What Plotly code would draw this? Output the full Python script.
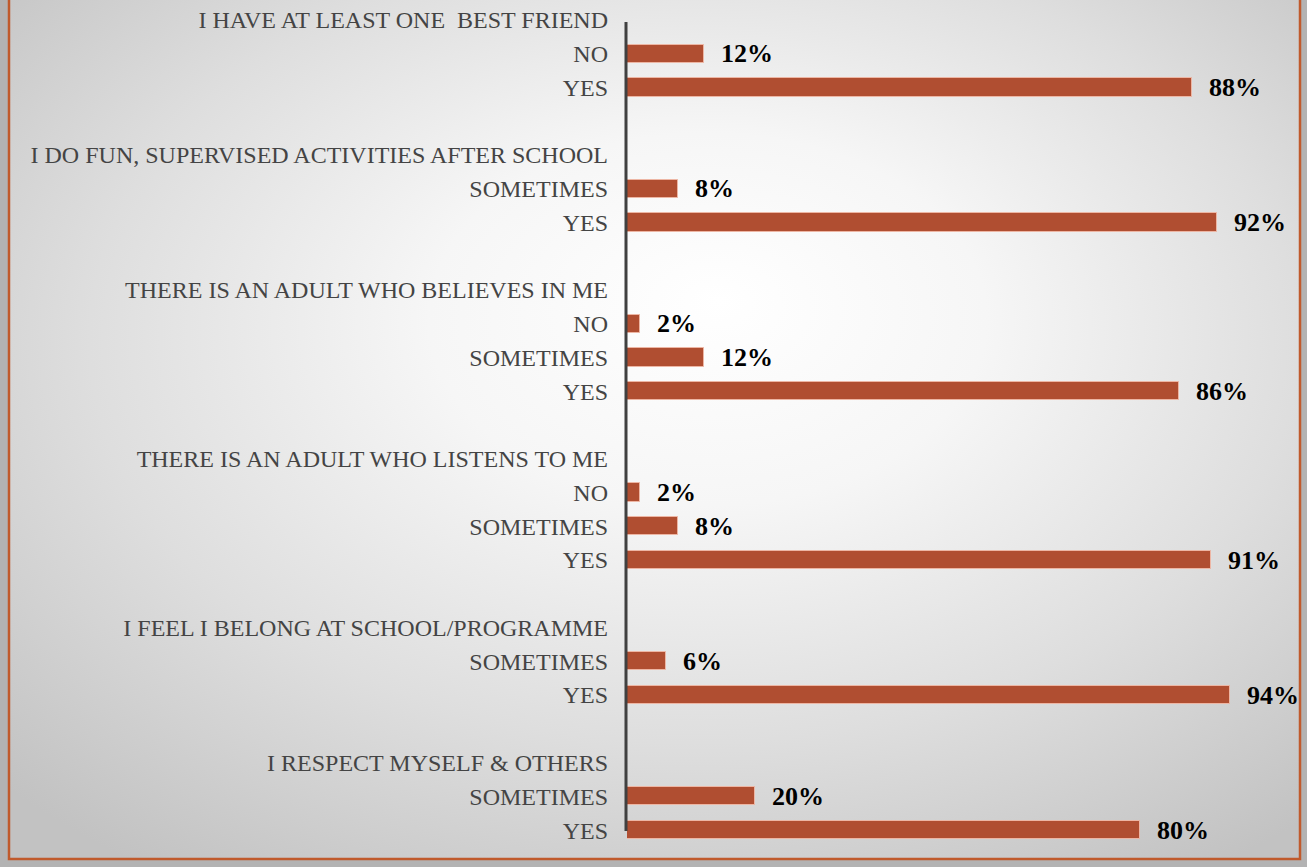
import plotly.graph_objects as go
import base64

# ---- data ----
row_labels = [
    "I HAVE AT LEAST ONE \u00a0BEST FRIEND", "NO", "YES", "",
    "I DO FUN, SUPERVISED ACTIVITIES AFTER SCHOOL", "SOMETIMES", "YES", "",
    "THERE IS AN ADULT WHO BELIEVES IN ME", "NO", "SOMETIMES", "YES", "",
    "THERE IS AN ADULT WHO LISTENS TO ME", "NO", "SOMETIMES", "YES", "",
    "I FEEL I BELONG AT SCHOOL/PROGRAMME", "SOMETIMES", "YES", "",
    "I RESPECT MYSELF & OTHERS", "SOMETIMES", "YES",
]
values = [
    None, 12, 88, None,
    None, 8, 92, None,
    None, 2, 12, 86, None,
    None, 2, 8, 91, None,
    None, 6, 94, None,
    None, 20, 80,
]

W, H = 1307, 867
ML, MR, MT, MB = 627, 17, 3, 20
PW = W - ML - MR
PH = H - MT - MB

def px_x(x):
    return (x - ML) / PW

def px_y(y):
    return 1 - (y - MT) / PH

rows = list(range(len(row_labels)))
bar_y = [r for r, v in zip(rows, values) if v is not None]
bar_x = [v for v in values if v is not None]

fig = go.Figure()
fig.add_trace(go.Bar(
    x=bar_x, y=bar_y, orientation="h", width=0.54,
    marker=dict(color="#B04E31", line=dict(color="#EDB6A4", width=1)),
    hoverinfo="skip", showlegend=False,
))

annotations = []
for v, r in zip(bar_x, bar_y):
    annotations.append(dict(
        x=v, y=r, xref="x", yref="y", text=f"<b>{v}%</b>", showarrow=False,
        xanchor="left", yanchor="middle", xshift=15,
        font=dict(family="Liberation Serif, serif", size=26, color="#000000"),
    ))

svg = '''<svg xmlns="http://www.w3.org/2000/svg" width="1292" height="860" viewBox="0 0 1292 860" preserveAspectRatio="none">
<defs><radialGradient id="g" cx="0.52" cy="0.42" r="0.72" fx="0.55" fy="0.35">
<stop offset="0" stop-color="#ffffff"/>
<stop offset="0.3" stop-color="#f6f6f6"/>
<stop offset="0.65" stop-color="#dedede"/>
<stop offset="1" stop-color="#c2c2c2"/>
</radialGradient></defs>
<rect x="0" y="0" width="1292" height="860" fill="url(#g)"/>
</svg>'''
src = "data:image/svg+xml;base64," + base64.b64encode(svg.encode()).decode()

fig.update_layout(
    width=W, height=H,
    margin=dict(l=ML, r=MR, t=MT, b=MB, pad=0),
    paper_bgcolor="#b3b3b3",
    plot_bgcolor="rgba(0,0,0,0)",
    bargap=0,
    xaxis=dict(range=[0, 103.3], visible=False, fixedrange=True),
    yaxis=dict(
        range=[24.5, -0.5], tickmode="array", tickvals=rows, ticktext=row_labels,
        showgrid=False, zeroline=False, showline=False, ticks="",
        ticklabelstandoff=18,
        tickfont=dict(family="Liberation Serif, serif", size=24, color="#444444"),
    ),
    images=[dict(
        source=src, xref="paper", yref="paper",
        x=px_x(9), y=px_y(0), sizex=(1300 - 9) / PW, sizey=860 / PH,
        xanchor="left", yanchor="top", sizing="stretch", layer="below",
    )],
    shapes=[
        dict(type="line", xref="paper", yref="paper",
             x0=px_x(626), x1=px_x(626), y0=px_y(22), y1=px_y(831),
             line=dict(color="#404040", width=3), layer="above"),
        dict(type="rect", xref="paper", yref="paper",
             x0=px_x(9), x1=px_x(1300), y0=px_y(-5), y1=px_y(859),
             line=dict(color="#C05A2C", width=2.5), fillcolor="rgba(0,0,0,0)", layer="above"),
    ],
    annotations=annotations,
)

fig.write_html("out.html")
